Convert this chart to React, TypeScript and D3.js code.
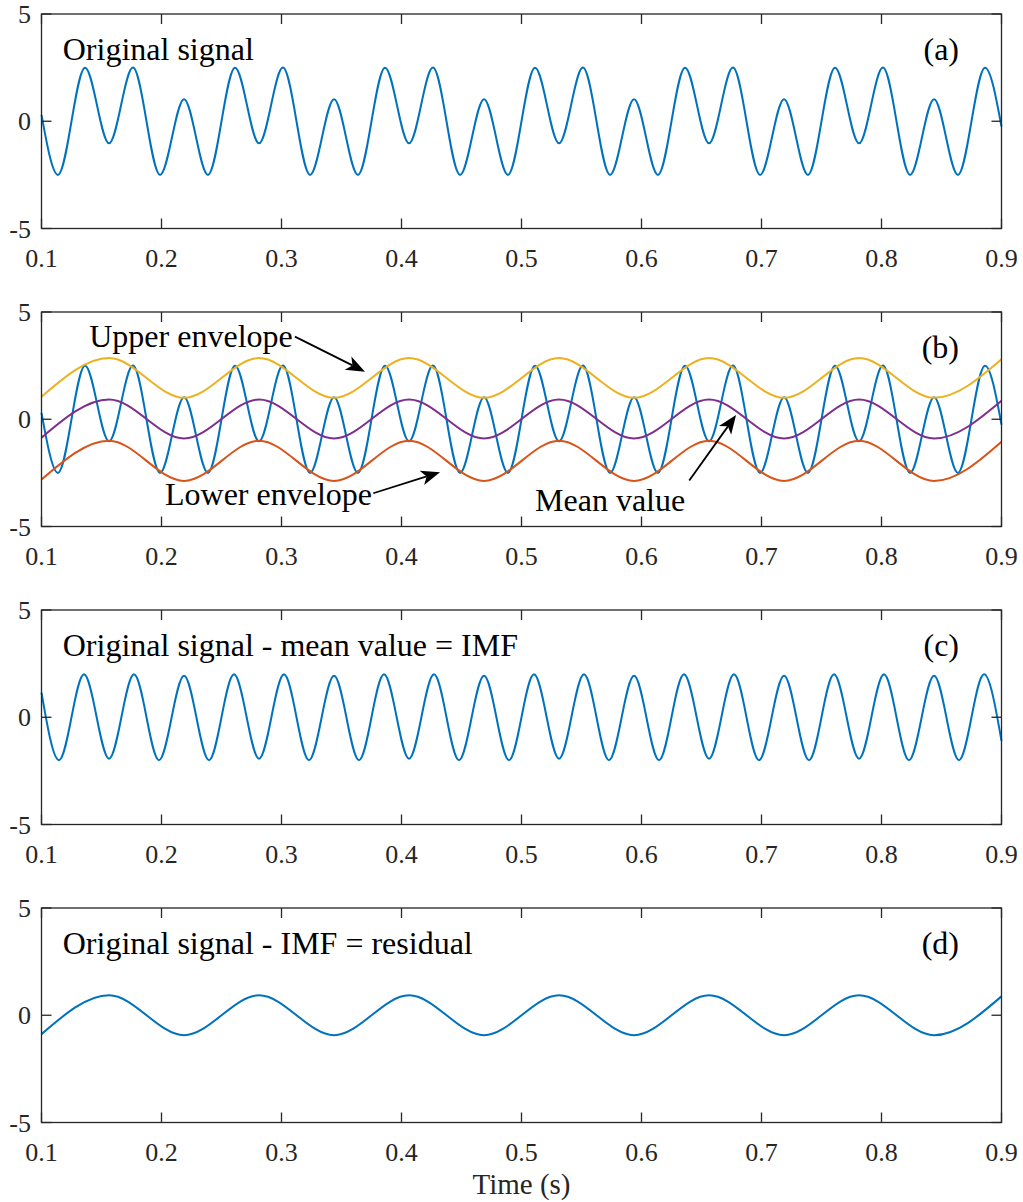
import React from "react";
import * as d3 from "d3";

// ---------- data ----------
const xTicks = [0.1, 0.2, 0.3, 0.4, 0.5, 0.6, 0.7, 0.8, 0.9];
const xTickLabels = ["0.1", "0.2", "0.3", "0.4", "0.5", "0.6", "0.7", "0.8", "0.9"];
const yTicks = [-5, 0, 5];
const yTickLabels = ["-5", "0", "5"];

// original signal: start, extrema..., end
const originalT = [
  0.1, 0.1137,
  0.1363, 0.1563, 0.1762, 0.1988, 0.2188, 0.2387,
  0.2613, 0.2813, 0.3012, 0.3238, 0.3438, 0.3637,
  0.3863, 0.4063, 0.4262, 0.4488, 0.4688, 0.4887,
  0.5113, 0.5313, 0.5512, 0.5738, 0.5938, 0.6137,
  0.6363, 0.6563, 0.6762, 0.6988, 0.7188, 0.7387,
  0.7613, 0.7813, 0.8012, 0.8238, 0.8438, 0.8637,
  0.8863, 0.9,
];
const originalV = [
  0.3, -2.5,
  2.5, -1.03, 2.5, -2.5, 1.03, -2.5,
  2.5, -1.03, 2.5, -2.5, 1.03, -2.5,
  2.5, -1.03, 2.5, -2.5, 1.03, -2.5,
  2.5, -1.03, 2.5, -2.5, 1.03, -2.5,
  2.5, -1.03, 2.5, -2.5, 1.03, -2.5,
  2.5, -1.03, 2.5, -2.5, 1.03, -2.5,
  2.5, -0.25,
];

// IMF (panel c)
const imfT = [
  0.1, 0.1146, 0.1354, 0.1563, 0.1771, 0.1979, 0.2188, 0.2396, 0.2604, 0.2813,
  0.3021, 0.3229, 0.3438, 0.3646, 0.3854, 0.4063, 0.4271, 0.4479, 0.4688, 0.4896,
  0.5104, 0.5313, 0.5521, 0.5729, 0.5938, 0.6146, 0.6354, 0.6563, 0.6771, 0.6979,
  0.7188, 0.7396, 0.7604, 0.7813, 0.8021, 0.8229, 0.8438, 0.8646, 0.8854, 0.9,
];
const imfV = [
  1.15, -2, 2, -1.93, 2, -2, 1.93, -2, 2, -1.93,
  2, -2, 1.93, -2, 2, -1.93, 2, -2, 1.93, -2,
  2, -1.93, 2, -2, 1.93, -2, 2, -1.93, 2, -2,
  1.93, -2, 2, -1.93, 2, -2, 1.93, -2, 2, -1.1,
];

// slow components (panels b and d) share these times
const slowT = [
  0.1, 0.1563, 0.2188, 0.2813, 0.3438, 0.4063, 0.4688,
  0.5313, 0.5938, 0.6563, 0.7188, 0.7813, 0.8438, 0.9,
];
const residualV = [-0.88, 0.93, -0.93, 0.93, -0.93, 0.93, -0.93, 0.93, -0.93, 0.93, -0.93, 0.93, -0.93, 0.88];
const upperV = [1.05, 2.85, 1.0, 2.85, 1.0, 2.85, 1.0, 2.85, 1.0, 2.85, 1.0, 2.85, 1.0, 2.8];
const lowerV = [-2.81, -1.0, -2.88, -1.0, -2.88, -1.0, -2.88, -1.0, -2.88, -1.0, -2.88, -1.0, -2.88, -1.05];
const meanV = [-0.86, 0.92, -0.9, 0.92, -0.9, 0.92, -0.9, 0.92, -0.9, 0.92, -0.9, 0.92, -0.9, 0.86];

const panelTitles = ["Original signal", "", "Original signal - mean value = IMF", "Original signal - IMF = residual"];
const panelTags = ["(a)", "(b)", "(c)", "(d)"];

// ---------- layout ----------
const W = 1023;
const H = 1202;
const LEFT = 41.5;
const RIGHT = 1001.5;
const PANEL_H = 214.5;
const PANEL_TOPS = [14, 312, 610, 908];
const FONT = "'Liberation Serif', 'Times New Roman', Times, serif";
const AX = "#262626";
const BLUE = "#0072BD";
const ORANGE = "#D95319";
const YELLOW = "#EDB120";
const PURPLE = "#7E2F8E";

const zip = (t: number[], v: number[]) => t.map((ti, i) => [ti, v[i]] as [number, number]);

function arrow(x1: number, y1: number, x2: number, y2: number) {
  const dx = x2 - x1, dy = y2 - y1;
  const len = Math.hypot(dx, dy);
  const ux = dx / len, uy = dy / len;
  const nx = -uy, ny = ux;
  const L = 19, Wd = 7.5, notch = 5;
  const bx = x2 - L * ux, by = y2 - L * uy;
  const head = `M${x2},${y2} L${bx + Wd * nx},${by + Wd * ny} L${x2 - (L - notch) * ux},${y2 - (L - notch) * uy} L${bx - Wd * nx},${by - Wd * ny} Z`;
  return (
    <g>
      <line x1={x1} y1={y1} x2={x2 - (L - notch) * ux} y2={y2 - (L - notch) * uy} stroke="#000" strokeWidth={1.8} />
      <path d={head} fill="#000" />
    </g>
  );
}

export default function App() {
  const x = d3.scaleLinear().domain([0.1, 0.9]).range([LEFT, RIGHT]);

  const panels = PANEL_TOPS.map((top, pi) => {
    const y = d3.scaleLinear().domain([-5, 5]).range([top + PANEL_H, top]);
    const line = d3
      .line<[number, number]>()
      .x((d) => x(d[0]))
      .y((d) => y(d[1]))
      .curve(d3.curveMonotoneX);
    const bottom = top + PANEL_H;

    let curves: React.ReactNode = null;
    if (pi === 0) {
      curves = <path d={line(zip(originalT, originalV)) || ""} fill="none" stroke={BLUE} strokeWidth={2} />;
    } else if (pi === 1) {
      curves = (
        <g>
          <path d={line(zip(originalT, originalV)) || ""} fill="none" stroke={BLUE} strokeWidth={2} />
          <path d={line(zip(slowT, upperV)) || ""} fill="none" stroke={YELLOW} strokeWidth={2} />
          <path d={line(zip(slowT, lowerV)) || ""} fill="none" stroke={ORANGE} strokeWidth={2} />
          <path d={line(zip(slowT, meanV)) || ""} fill="none" stroke={PURPLE} strokeWidth={2} />
        </g>
      );
    } else if (pi === 2) {
      curves = <path d={line(zip(imfT, imfV)) || ""} fill="none" stroke={BLUE} strokeWidth={2} />;
    } else {
      curves = <path d={line(zip(slowT, residualV)) || ""} fill="none" stroke={BLUE} strokeWidth={2} />;
    }

    return (
      <g key={pi}>
        {curves}
        {/* box */}
        <rect x={LEFT} y={top} width={RIGHT - LEFT} height={PANEL_H} fill="none" stroke={AX} strokeWidth={1.3} />
        {/* x ticks */}
        {xTicks.map((t, i) => (
          <g key={"x" + i}>
            <line x1={x(t)} x2={x(t)} y1={bottom} y2={bottom - 10} stroke={AX} strokeWidth={1.3} />
            <line x1={x(t)} x2={x(t)} y1={top} y2={top + 10} stroke={AX} strokeWidth={1.3} />
            <text x={x(t)} y={bottom + 38} textAnchor="middle" fontSize={26} fontFamily={FONT} fill={AX}>
              {xTickLabels[i]}
            </text>
          </g>
        ))}
        {/* y ticks */}
        {yTicks.map((v, i) => (
          <g key={"y" + i}>
            <line x1={LEFT} x2={LEFT + 10} y1={y(v)} y2={y(v)} stroke={AX} strokeWidth={1.3} />
            <line x1={RIGHT} x2={RIGHT - 10} y1={y(v)} y2={y(v)} stroke={AX} strokeWidth={1.3} />
            <text x={31} y={y(v) + 9} textAnchor="end" fontSize={26} fontFamily={FONT} fill={AX}>
              {yTickLabels[i]}
            </text>
          </g>
        ))}
        {panelTitles[pi] && (
          <text x={x(0.1177)} y={y(2.86)} fontSize={32} fontFamily={FONT} fill="#000">
            {panelTitles[pi]}
          </text>
        )}
        <text x={x(0.8646)} y={y(2.86)} textAnchor="end" fontSize={32} fontFamily={FONT} fill="#000">
          {panelTags[pi]}
        </text>
        {pi === 1 && (
          <g>
            <text x={x(0.1398)} y={y(3.38)} fontSize={32} fontFamily={FONT} fill="#000">Upper envelope</text>
            {arrow(x(0.3112), y(3.85), x(0.3696), y(2.22))}
            <text x={x(0.2029)} y={y(-4.0)} fontSize={32} fontFamily={FONT} fill="#000">Lower envelope</text>
            {arrow(x(0.3765), y(-3.45), x(0.4321), y(-2.47))}
            <text x={x(0.5113)} y={y(-4.26)} fontSize={32} fontFamily={FONT} fill="#000">Mean value</text>
            {arrow(x(0.6398), y(-2.86), x(0.6788), y(0.2))}
          </g>
        )}
      </g>
    );
  });

  return (
    <div style={{ position: "absolute", left: 0, top: 0 }}>
      <svg width={W} height={H} style={{ display: "block", background: "#fff" }}>
        <rect width={W} height={H} fill="#fff" />
        {panels}
        <text x={(LEFT + RIGHT) / 2} y={1194} textAnchor="middle" fontSize={29} fontFamily={FONT} fill={AX}>
          Time (s)
        </text>
      </svg>
    </div>
  );
}
